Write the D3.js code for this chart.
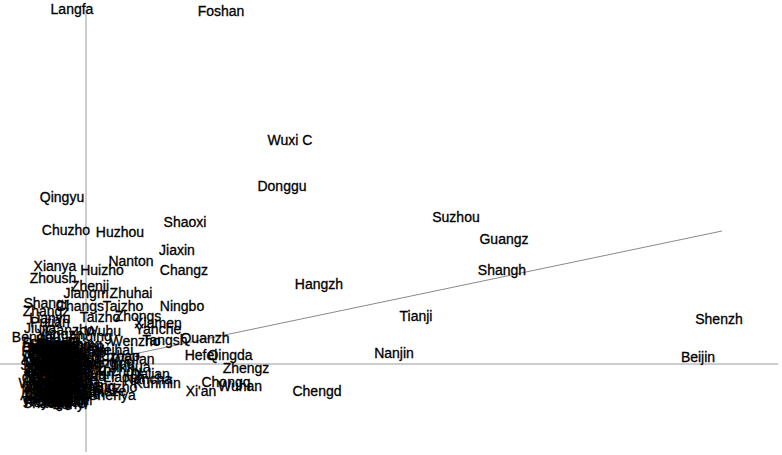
<!DOCTYPE html>
<meta charset="utf-8">
<script src="https://cdnjs.cloudflare.com/ajax/libs/d3/7.8.5/d3.min.js"></script>
<style>
body { margin: 0; background: #fff; }
text { font-family: "Liberation Sans", Arial, sans-serif; font-size: 14px; fill: #000; stroke: #000; stroke-width: 0.3px; }
</style>
<body>
<script>
//width and height
var w = 782;
var h = 455;

//city labels (truncated names) and their scores on the two components
var cities = [
  "Langfa", "Foshan", "Wuxi C", "Donggu", "Qingyu", "Suzhou", "Shaoxi", "Chuzho",
  "Huzhou", "Guangz", "Jiaxin", "Nanton", "Xianya", "Shangh", "Changz", "Huizho",
  "Zhoush", "Hangzh", "Zhenji", "Zhuhai", "Jiangm", "Shangr", "Changs", "Taizho",
  "Ningbo", "Tianji", "Shenzh", "Taizho", "Zhongs", "Xiamen", "Yanche", "Wenzho",
  "Tangsh", "Quanzh", "Hefei", "Qingda", "Nanjin", "Beijin", "Weifan", "Jinhua",
  "Zhengz", "Xuzhou", "Dalian", "Nancha", "Chongq", "Kunmin", "Wuhan", "Chengd",
  "Xi'an", "Shenya", "Shaogu",
  "Zhangz", "Lianyu", "Putian", "Jiujia", "Ganzho", "Wuhu", "Yangzh", "Bengbu",
  "Huaian", "Anqing", "Fuyang", "Weihai", "Rizhao", "Dezhou", "Liaoch", "Binzho",
  "Heze", "Zunyi",
  "Shijia", "Taiyua", "Jining", "Baotou", "Handan", "Linyi", "Datong", "Baodin",
  "Yantai", "Zibo", "Luoyan", "Xinxia", "Anyang", "Shiyan", "Xiangy", "Yichan",
  "Jingzh", "Zhuzho", "Xiangt", "Hengya", "Yiyang", "Shaoya", "Yueyan", "Changd",
  "Chenzh", "Yongzh", "Huaihu", "Zhanji", "Maomin", "Zhaoqi", "Meizho", "Shanwe",
  "Heyuan", "Yangji", "Chaozh", "Jieyan", "Nannin", "Liuzho", "Guilin", "Wuzhou",
  "Beihai", "Haikou", "Zigong", "Luzhou", "Deyang", "Mianya", "Suinin", "Neijia",
  "Leshan", "Yibin", "Guiyan", "Anshun", "Yuxi", "Baosha", "Lhasa", "Baoji",
  "Weinan", "Yan'an",
  "Urumqi", "Lanzho", "Xining", "Yinchu", "Hohhot", "Harbin", "Changc", "Jilin",
  "Qiqiha", "Daqing", "Mudanj", "Jiamus", "Anshan", "Fushun", "Benxi", "Dandon",
  "Jinzho", "Yingko", "Fuxin", "Liaoya", "Panjin", "Tiehli", "Chaoya", "Huluda",
  "Jinche", "Shuozh", "Linfen", "Yunche", "Xinzho", "Xingta", "Cangzh", "Hengsh",
  "Qinhua", "Zaozhu", "Dongyi", "Kaifen", "Pingdi", "Jiaozu", "Puyang", "Xuchan",
  "Sanmen", "Nanyan", "Shangq", "Xinyan", "Zhouko", "Zhumad", "Huaina", "Ma'ans",
  "Huaibe", "Tongli"
];

var comp1 = [
  -0.14, 1.35, 2.04, 1.96, -0.24, 3.70, 0.99, -0.20,
  0.34, 4.18, 0.91, 0.45, -0.31, 4.16, 0.98, 0.16,
  -0.33, 2.33, 0.04, 0.45, 0.00, -0.40, -0.06, 0.37,
  0.96, 3.30, 6.33, 0.14, 0.52, 0.72, 0.72, 0.49,
  0.79, 1.19, 1.15, 1.44, 3.08, 6.12, 0.47, 0.44,
  1.60, 0.32, 0.64, 0.62, 1.40, 0.71, 1.54, 2.31,
  1.15, 0.26, -0.39,
  -0.40, -0.36, -0.36, -0.46, -0.16, 0.17, -0.26, -0.50,
  -0.28, 0.04, -0.40, 0.26, 0.32, 0.24, 0.38, 0.30,
  0.24, -0.16,
  -0.40, -0.28, -0.02, -0.42, -0.32, -0.23, -0.36, -0.26,
  0.04, -0.42, -0.34, -0.24, -0.40, -0.29, -0.06, -0.43,
  -0.33, -0.23, -0.38, -0.28, 0.10, -0.42, -0.32, -0.23,
  -0.38, -0.27, -0.02, -0.43, -0.33, -0.24, -0.39, -0.29,
  0.04, -0.42, -0.32, -0.23, -0.38, -0.28, -0.06, -0.42,
  -0.33, -0.24, -0.38, -0.28, 0.06, -0.42, -0.32, -0.23,
  -0.38, -0.29, -0.04, -0.42, -0.34, -0.26, -0.38, -0.28,
  -0.40, -0.26,
  -0.34, -0.18, -0.38, -0.16, -0.42, -0.20, -0.30, -0.14,
  -0.36, -0.20, -0.40, -0.16, -0.32, -0.18, -0.38, -0.16,
  -0.42, -0.20, -0.30, -0.14, -0.36, -0.20, -0.40, -0.16,
  -0.32, -0.18, -0.38, -0.16, -0.42, -0.20, -0.30, -0.14,
  -0.36, -0.18, -0.40, -0.16, -0.32, -0.18, -0.38, -0.22,
  -0.08, -0.06, -0.08, -0.06, -0.08, -0.06, -0.08, -0.06,
  -0.08, -0.12
];

var comp2 = [
  3.55, 3.53, 2.24, 1.78, 1.67, 1.47, 1.42, 1.34,
  1.32, 1.25, 1.14, 1.03, 0.98, 0.94, 0.94, 0.94,
  0.86, 0.80, 0.78, 0.71, 0.71, 0.61, 0.58, 0.58,
  0.58, 0.48, 0.45, 0.47, 0.48, 0.41, 0.35, 0.23,
  0.24, 0.26, 0.09, 0.09, 0.11, 0.07, 0.05, -0.03,
  -0.04, -0.07, -0.10, -0.15, -0.18, -0.19, -0.22, -0.27,
  -0.27, -0.31, -0.39,
  0.53, 0.46, 0.42, 0.36, 0.34, 0.33, 0.30, 0.27,
  0.24, 0.28, 0.21, 0.14, 0.08, 0.01, -0.13, -0.23,
  -0.27, -0.40,
  0.20, 0.20, 0.20, 0.17, 0.17, 0.17, 0.14, 0.14,
  0.14, 0.11, 0.11, 0.11, 0.08, 0.08, 0.08, 0.05,
  0.05, 0.05, 0.02, 0.02, 0.02, -0.01, -0.01, -0.01,
  -0.04, -0.04, -0.04, -0.07, -0.07, -0.07, -0.10, -0.10,
  -0.10, -0.13, -0.13, -0.13, -0.16, -0.16, -0.16, -0.19,
  -0.19, -0.19, -0.22, -0.22, -0.22, -0.25, -0.25, -0.25,
  -0.28, -0.28, -0.28, -0.31, -0.31, -0.31, -0.34, -0.34,
  -0.37, -0.37,
  0.19, 0.19, 0.16, 0.16, 0.13, 0.13, 0.10, 0.10,
  0.07, 0.07, 0.04, 0.04, 0.01, 0.01, -0.02, -0.02,
  -0.05, -0.05, -0.08, -0.08, -0.11, -0.11, -0.14, -0.14,
  -0.17, -0.17, -0.20, -0.20, -0.23, -0.23, -0.26, -0.26,
  -0.29, -0.29, -0.32, -0.32, -0.35, -0.35, -0.38, -0.38,
  0.18, 0.12, 0.06, 0.00, -0.06, -0.12, -0.18, -0.24,
  -0.30, -0.36
];

//fitted line and axis extents
var lineX = [0, 6.36];
var lineY = [0, 1.33];
var axisX = [-0.86, 6.92];
var axisY = [-0.88, 3.54];

var data = cities.map(function(c, i) {
  return { name: c, x: comp1[i], y: comp2[i] };
});

//get svg
var svg = d3.select("body").append("svg")
    .attr("width", w)
    .attr("height", h);

//set scale
var xScale = d3.scaleLinear().domain([-0.86, 6.96]).range([0, w]);
var yScale = d3.scaleLinear().domain([3.64, -0.91]).range([0, h]);

//axes through the origin
svg.append("line")
.attr("x1", xScale(axisX[0])).attr("x2", xScale(axisX[1]))
.attr("y1", yScale(0)).attr("y2", yScale(0))
.style("stroke", "#9a9a9a").style("stroke-width", 1);

svg.append("line")
.attr("x1", xScale(0)).attr("x2", xScale(0))
.attr("y1", yScale(axisY[1])).attr("y2", yScale(axisY[0]))
.style("stroke", "#9a9a9a").style("stroke-width", 1);

//fitted line
svg.append("line")
.attr("x1", xScale(lineX[0])).attr("y1", yScale(lineY[0]))
.attr("x2", xScale(lineX[1])).attr("y2", yScale(lineY[1]))
.style("stroke", "#8a8a8a").style("stroke-width", 1);

//labels
svg.selectAll("text.city").data(data).enter().append("text")
.attr("class", "city")
.attr("x", function(d){ return xScale(d.x); })
.attr("y", function(d){ return yScale(d.y); })
.attr("text-anchor", "middle")
.attr("dominant-baseline", "central")
.text(function(d){ return d.name; });

</script>
</body>
</html>
